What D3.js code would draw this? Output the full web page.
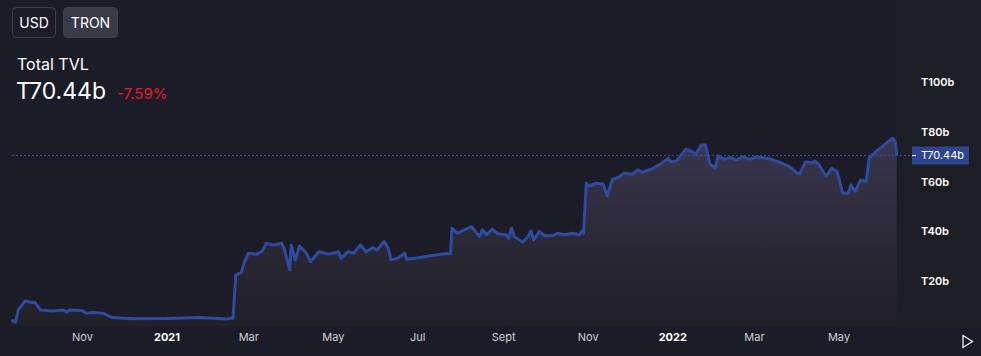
<!DOCTYPE html>
<html>
<head>
<meta charset="utf-8">
<script src="https://cdn.jsdelivr.net/npm/d3@7"></script>
<style>
  html, body { margin: 0; padding: 0; background: #1b1c27; }
  svg { display: block; font-family: Inter, "Noto Sans", sans-serif; }
</style>
</head>
<body>
<svg id="chart" width="981" height="356"></svg>
<script>
// ---- data ----
const dates = [
  "2020-09-11","2020-09-14","2020-09-16","2020-09-21","2020-09-26","2020-09-28","2020-10-02","2020-10-11","2020-10-18","2020-10-21",
  "2020-10-23","2020-11-01","2020-11-04","2020-11-09","2020-11-16","2020-11-23","2020-12-07","2021-01-01","2021-01-25","2021-02-13",
  "2021-02-17","2021-02-18","2021-02-20","2021-02-24","2021-02-26","2021-03-01","2021-03-07","2021-03-11","2021-03-14","2021-03-19",
  "2021-03-25","2021-03-27","2021-03-31","2021-04-01","2021-04-04","2021-04-07","2021-04-12","2021-04-15","2021-04-21","2021-04-28",
  "2021-05-05","2021-05-07","2021-05-12","2021-05-16","2021-05-21","2021-05-25","2021-05-30","2021-06-02","2021-06-07","2021-06-10",
  "2021-06-12","2021-06-17","2021-06-22","2021-06-23","2021-07-02","2021-07-14","2021-07-24","2021-07-25","2021-07-26","2021-07-30",
  "2021-08-04","2021-08-09","2021-08-15","2021-08-17","2021-08-20","2021-08-24","2021-08-28","2021-09-03","2021-09-05","2021-09-07",
  "2021-09-09","2021-09-15","2021-09-19","2021-09-21","2021-09-23","2021-09-27","2021-10-01","2021-10-07","2021-10-10","2021-10-15",
  "2021-10-21","2021-10-26","2021-10-28","2021-10-29","2021-10-31","2021-11-02","2021-11-07","2021-11-12","2021-11-15","2021-11-19",
  "2021-11-24","2021-11-27","2021-12-03","2021-12-07","2021-12-10","2021-12-18","2021-12-23","2021-12-29","2021-12-31","2022-01-04",
  "2022-01-11","2022-01-16","2022-01-18","2022-01-22","2022-01-25","2022-01-28","2022-02-01","2022-02-03","2022-02-07","2022-02-12",
  "2022-02-16","2022-02-21","2022-02-26","2022-03-03","2022-03-08","2022-03-13","2022-03-19","2022-03-26","2022-04-01","2022-04-03",
  "2022-04-05","2022-04-07","2022-04-12","2022-04-14","2022-04-17",
  "2022-04-22","2022-04-26","2022-04-30","2022-05-04","2022-05-08","2022-05-10","2022-05-13","2022-05-17","2022-05-21","2022-05-23",
  "2022-05-28","2022-06-03","2022-06-09","2022-06-11","2022-06-12"
];
const tvl = [
  4.4,3.5,8.4,12.0,11.4,11.4,8.4,8.0,8.4,7.5,
  8.4,8.2,7.1,7.4,7.1,5.3,4.8,4.9,5.3,4.7,
  5.1,5.0,22.5,23.4,27.2,31.2,30.8,31.9,35.2,34.5,
  35.2,32.8,24.5,34.5,28.5,34.1,31.2,27.8,31.8,30.8,
  31.8,29.2,31.8,31.2,34.5,31.8,33.5,32.5,35.9,33.2,
  28.5,29.2,31.2,28.8,29.4,30.5,31.2,31.0,41.2,39.2,
  40.6,41.9,37.9,40.6,38.6,40.8,39.0,38.6,37.2,41.2,
  37.9,35.6,37.9,40.2,36.5,39.9,38.2,38.2,39.2,38.6,
  39.2,38.6,40.2,39.2,59.3,58.2,59.3,59.0,54.2,60.9,
  62.0,63.3,62.9,64.7,63.7,65.3,66.9,69.3,68.0,68.3,
  73.1,71.8,71.0,74.7,74.7,67.3,65.3,70.3,69.0,69.7,
  68.6,69.9,69.0,69.9,69.6,69.0,67.8,66.2,63.5,63.1,
  65.4,67.8,67.5,68.2,66.7,
  62.0,65.3,64.0,55.3,55.3,58.6,56.0,60.6,60.0,69.3,
  72.0,74.7,77.4,76.0,70.44
];
const yTicks = [20, 40, 60, 80, 100];
const yTickLabels = ["T20b", "T40b", "T60b", "T80b", "T100b"];
const xTickDates = ["2020-11-01","2021-01-01","2021-03-01","2021-05-01","2021-07-01","2021-09-01","2021-11-01","2022-01-01","2022-03-01","2022-05-01"];
const xTickLabels = ["Nov","2021","Mar","May","Jul","Sept","Nov","2022","Mar","May"];
const currentValue = 70.44;
const titleText = "Total TVL";
const valueText = "T70.44b";
const changeText = "-7.59%";
const buttons = ["USD", "TRON"];

// ---- drawing ----
const parse = d3.utcParse("%Y-%m-%d");
const data = dates.map((d, i) => ({ date: parse(d), value: tvl[i] }));

const svg = d3.select("#chart");
const W = 981, H = 356;
const plotLeft = 12, plotRight = 898;

// backgrounds
svg.append("rect").attr("x", 0).attr("y", 0).attr("width", W).attr("height", H).attr("fill", "#1b1c27");
svg.append("rect").attr("x", plotRight).attr("y", 0).attr("width", W - plotRight).attr("height", 326).attr("fill", "#1d1e25");

const x = d3.scaleUtc()
  .domain([parse("2020-11-01"), parse("2022-05-01")])
  .range([82, 838.5]);
const y = d3.scaleLinear().domain([0, 100]).range([330.8, 82]);

const defs = svg.append("defs");
const grad = defs.append("linearGradient").attr("id", "fillGrad")
  .attr("x1", 0).attr("y1", 0).attr("x2", 0).attr("y2", 1);
grad.append("stop").attr("offset", "0%").attr("stop-color", "#3c3852").attr("stop-opacity", 0.95);
grad.append("stop").attr("offset", "100%").attr("stop-color", "#262229").attr("stop-opacity", 0.6);

const area = d3.area().x(d => x(d.date)).y0(326).y1(d => y(d.value));
const line = d3.line().x(d => x(d.date)).y(d => y(d.value));

svg.append("path").datum(data).attr("d", area).attr("fill", "url(#fillGrad)");
svg.append("path").datum(data).attr("d", line)
  .attr("fill", "none").attr("stroke", "#2f4b9f").attr("stroke-width", 3)
  .attr("stroke-linejoin", "round");

// current value dashed line
svg.append("line")
  .attr("x1", plotLeft).attr("x2", 912)
  .attr("y1", y(currentValue)).attr("y2", y(currentValue))
  .attr("stroke", "#34509a").attr("stroke-width", 1).attr("stroke-dasharray", "2,2");

// y axis
const yAxis = d3.axisRight(y).tickValues(yTicks).tickFormat((d, i) => yTickLabels[i]).tickSize(0).tickPadding(0);
const yg = svg.append("g").attr("transform", "translate(921,0)").call(yAxis);
yg.select(".domain").remove();
yg.selectAll("text").attr("fill", "#ffffff").attr("font-size", 11).attr("font-weight", 600)
  .attr("font-family", "Inter, sans-serif");

// value label box
const vy = y(currentValue);
svg.append("rect").attr("x", 912).attr("y", vy - 9).attr("width", 57).attr("height", 18).attr("fill", "#2d4590");
svg.append("line").attr("x1", 912).attr("x2", 916).attr("y1", vy).attr("y2", vy).attr("stroke", "#ffffff").attr("stroke-width", 1);
svg.append("text").attr("x", 921).attr("y", vy).attr("dy", "0.35em")
  .attr("fill", "#ffffff").attr("font-size", 11).attr("font-family", "Inter, sans-serif").text(valueText);

// x axis
const xAxis = d3.axisBottom(x).tickValues(xTickDates.map(parse))
  .tickFormat((d, i) => xTickLabels[i]).tickSize(0).tickPadding(0);
const xg = svg.append("g").attr("transform", "translate(0,333)").call(xAxis);
xg.select(".domain").remove();
xg.selectAll("text")
  .attr("font-size", 11)
  .attr("font-family", "Inter, sans-serif")
  .attr("fill", (d, i) => /^\d{4}$/.test(xTickLabels[i]) ? "#ffffff" : "#d0d0d6")
  .attr("font-weight", (d, i) => /^\d{4}$/.test(xTickLabels[i]) ? 700 : 400);

// play icon
svg.append("path").attr("d", "M963,335.5 L972.5,341.5 L963,347.5 Z")
  .attr("fill", "none").attr("stroke", "#ffffff").attr("stroke-width", 1.2);

// buttons
const btnX = [12, 63], btnW = [43, 54];
buttons.forEach((b, i) => {
  svg.append("rect").attr("x", btnX[i] + 0.5).attr("y", 7.5).attr("width", btnW[i]).attr("height", 30).attr("rx", 4)
    .attr("fill", i === 1 ? "#383a45" : "none").attr("stroke", "#3c3e4a").attr("stroke-width", 1);
  svg.append("text").attr("x", btnX[i] + 0.5 + btnW[i] / 2).attr("y", 23).attr("dy", "0.35em")
    .attr("text-anchor", "middle").attr("fill", "#ffffff").attr("font-size", 14)
    .attr("font-family", "Inter, sans-serif").text(b);
});

// header text
svg.append("text").attr("x", 17).attr("y", 70).attr("fill", "#ffffff").attr("font-size", 16)
  .attr("font-family", "Inter, sans-serif").text(titleText);
svg.append("text").attr("x", 16).attr("y", 99).attr("fill", "#ffffff").attr("font-size", 23)
  .attr("font-family", "Inter, sans-serif").text(valueText);
svg.append("text").attr("x", 117).attr("y", 99).attr("fill", "#e8192e").attr("font-size", 15)
  .attr("font-family", "Inter, sans-serif").text(changeText);
</script>
</body>
</html>
